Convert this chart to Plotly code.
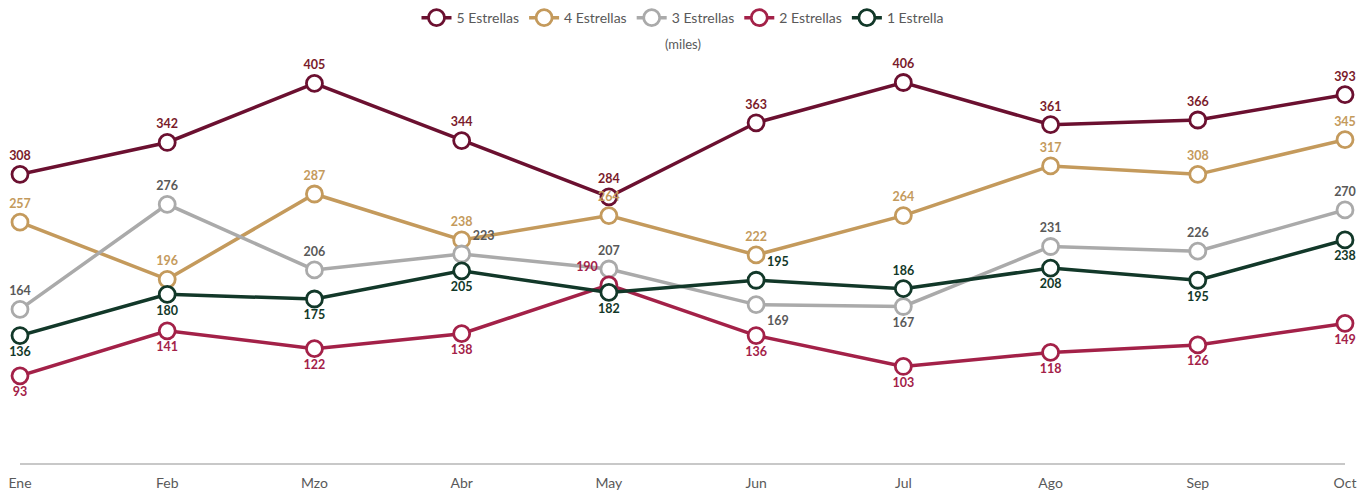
import plotly.graph_objects as go

months = ["Ene", "Feb", "Mzo", "Abr", "May", "Jun", "Jul", "Ago", "Sep", "Oct"]
s5 = [308, 342, 405, 344, 284, 363, 406, 361, 366, 393]
s4 = [257, 196, 287, 238, 264, 222, 264, 317, 308, 345]
s3 = [164, 276, 206, 223, 207, 169, 167, 231, 226, 270]
s2 = [93, 141, 122, 138, 190, 136, 103, 118, 126, 149]
s1 = [136, 180, 175, 205, 182, 195, 186, 208, 195, 238]

names = ["5 Estrellas", "4 Estrellas", "3 Estrellas", "2 Estrellas", "1 Estrella"]
line_colors = ["#6B1030", "#C49A5C", "#AAAAAA", "#A32148", "#123829"]
text_colors = ["#7A1B2B", "#C49A5C", "#595959", "#A32148", "#123829"]

TC, BC, TR, BR, TL = "top center", "bottom center", "top right", "bottom right", "top left"
positions = [
    [TC] * 10,
    [TC] * 10,
    [TC, TC, TC, TR, TC, BR, BC, TC, TC, TC],
    [BC, BC, BC, BC, TL, BC, BC, BC, BC, BC],
    [BC, BC, BC, BC, BC, TR, TC, BC, BC, BC],
]

fig = go.Figure()
for name, vals, lc, tc, pos in zip(names, [s5, s4, s3, s2, s1], line_colors, text_colors, positions):
    fig.add_trace(go.Scatter(
        x=list(range(len(months))), y=vals, name=name,
        mode="lines+markers+text",
        line=dict(color=lc, width=3.5),
        marker=dict(symbol="circle", size=16, color="white", line=dict(color=lc, width=2.8)),
        text=[str(v) for v in vals], textposition=pos,
        textfont=dict(color=tc, size=12.5, family="Lato", weight="bold"),
        cliponaxis=False,
    ))

fig.update_layout(
    width=1371, height=494,
    margin=dict(l=12, r=34, t=52, b=39, autoexpand=False),
    paper_bgcolor="white", plot_bgcolor="white",
    font=dict(family="Lato", color="#595959", size=14),
    showlegend=True,
    legend=dict(orientation="h", x=0.5, xanchor="center", y=1.104, yanchor="middle",
                font=dict(size=14, color="#595959"), itemwidth=30, tracegroupgap=0),
    annotations=[dict(text="(miles)", x=0.5, xref="paper", y=1.04, yref="paper", yanchor="middle",
                      showarrow=False, font=dict(size=13, color="#595959"))],
    xaxis=dict(tickmode="array", tickvals=list(range(len(months))), ticktext=months,
               range=[0, 9], showgrid=False, zeroline=False, showline=True, automargin=False,
               linecolor="#C8C8C8", linewidth=2, ticks="", ticklabelstandoff=6,
               tickfont=dict(size=14, color="#595959")),
    yaxis=dict(range=[0, 430], visible=False, showgrid=False, zeroline=False, automargin=False),
)

fig.write_html("out.html")
